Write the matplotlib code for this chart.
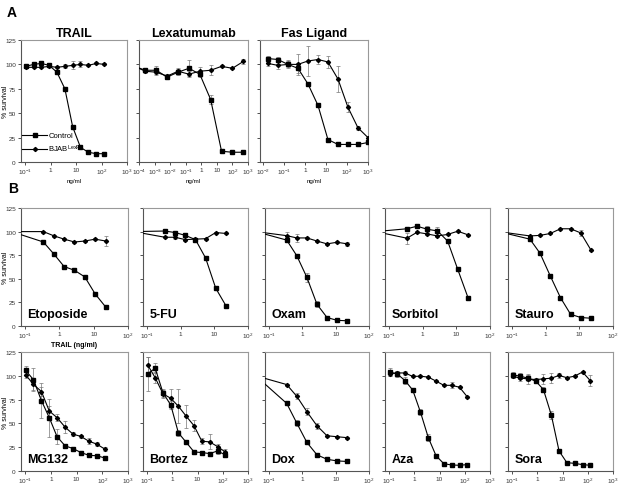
import numpy as np
import matplotlib
matplotlib.use('Agg')
import matplotlib.pyplot as plt

plt.rcParams['font.family'] = ['Liberation Sans', 'DejaVu Sans']
plt.rcParams['mathtext.fontset'] = 'custom'
plt.rcParams['mathtext.rm'] = 'Liberation Sans'
plt.rcParams['mathtext.it'] = 'Liberation Sans'

# ---- panel A data ----
trail_x = [0.105, 0.21, 0.43, 0.87, 1.75, 3.6, 7.3, 14.8, 30, 62, 125]
trail_ctrl = [98, 100, 101, 99, 92, 75, 36, 15, 10, 8.5, 8.5]
trail_bjab = [97, 97, 97, 98, 97, 98, 99, 100, 99, 101, 100]
trail_ctrl_err = [1, 2, 2, 1, 1, 1, 2, 1, 1, 1, 1]
trail_bjab_err = [1, 1, 1, 1, 1, 2, 4, 3, 1, 1, 1]

# first point is the off-scale baseline
lexa_x = [5.12e-5, 2.56e-4, 1.28e-3, 6.4e-3, 0.032, 0.16, 0.8, 4, 20, 100, 500]
lexa_ctrl = [98, 94, 94, 87, 92, 96, 90, 64, 11, 10, 10]
lexa_bjab = [98, 93, 92, 88, 93, 90, 93, 94, 98, 96, 103]
lexa_ctrl_err = [0, 2, 4, 2, 3, 8, 3, 5, 1, 1, 1]
lexa_bjab_err = [0, 2, 3, 2, 3, 3, 4, 5, 1, 1, 3]

fas_x = [0.0169, 0.0508, 0.152, 0.457, 1.37, 4.12, 12.3, 37, 111, 333, 1000]
fas_ctrl = [106, 105, 100, 96, 80, 58, 23, 18, 18, 18, 20]
fas_bjab = [101, 99, 100, 100, 103.5, 105, 102.5, 85, 56, 35, 25]
fas_ctrl_err = [3, 3, 3, 5, 2, 2, 2, 1, 1, 1, 2]
fas_bjab_err = [3, 4, 4, 11, 15, 5, 6, 13, 5, 2, 2]

# ---- panel B data ----
row1_x = [0.04, 0.34, 0.68, 1.37, 2.75, 5.5, 11, 22.5]
row2_x = [0.105, 0.21, 0.43, 0.87, 1.75, 3.6, 7.3, 14.8, 30, 62, 125]

etop_ctrl = [100, 89, 76.5, 63, 59, 52, 34, 20]
etop_bjab = [100, 100, 95.6, 92, 89, 90, 92, 90]
etop_ctrl_err = [0, 1, 1, 1, 1, 1, 1, 1]
etop_bjab_err = [0, 1, 1, 1, 1, 1, 1, 5]

fu_ctrl = [100, 100.6, 99, 96, 91.5, 72, 40, 21]
fu_bjab = [100, 94, 94, 91.5, 92, 92.5, 99, 98]
fu_ctrl_err = [0, 1, 1, 2, 1, 1, 1, 1]
fu_bjab_err = [0, 1, 2, 1, 1, 1, 1, 1]

oxam_ctrl = [100, 91, 74.5, 51.5, 23, 9, 6, 5.5]
oxam_bjab = [100, 95.7, 93.3, 93.3, 90, 87, 88.7, 87]
oxam_ctrl_err = [0, 2, 1, 5, 3, 1, 1, 1]
oxam_bjab_err = [0, 4, 4, 1, 1, 1, 1, 2]

sorb_ctrl = [100, 103, 105.7, 102.5, 100.7, 90, 60, 29.5]
sorb_bjab = [100, 93, 99.3, 97.5, 95.4, 97, 100.4, 96.5]
sorb_ctrl_err = [0, 1, 1, 3, 4, 1, 1, 1]
sorb_bjab_err = [0, 6, 1, 1, 1, 1, 1, 1]

stau_ctrl = [100, 92, 77, 53, 30, 12.4, 9, 8.2]
stau_bjab = [100, 95.4, 96, 98, 103, 103, 98.6, 80]
stau_ctrl_err = [0, 1, 1, 1, 1, 1, 1, 1]
stau_bjab_err = [0, 1, 1, 1, 1, 1, 3, 1]

mg_ctrl = [105.6, 96, 74, 56, 36, 26.4, 23.6, 19.4, 16.5, 16, 13.7]
mg_bjab = [101, 91, 83.5, 63, 56, 46, 38.7, 36.3, 31.3, 28.2, 23]
mg_ctrl_err = [5, 12, 18, 20, 8, 2, 2, 2, 2, 2, 2]
mg_bjab_err = [3, 6, 5, 5, 4, 6, 2, 2, 3, 2, 2]

bort_ctrl = [102, 108, 82, 69.4, 40, 30, 20, 19.4, 18.3, 21, 17]
bort_bjab = [111.6, 98, 81, 76.4, 68, 57.4, 47.5, 31.3, 30.6, 25.7, 20]
bort_ctrl_err = [18, 5, 4, 4, 3, 2, 2, 2, 2, 3, 2]
bort_bjab_err = [8, 6, 4, 10, 18, 12, 6, 3, 8, 3, 3]

dox_ctrl = [100, 71, 50.4, 30, 17, 12.3, 10.6, 10]
dox_bjab = [100, 90.8, 78.5, 62.3, 47.5, 37, 36, 35]
dox_ctrl_err = [0, 1, 3, 1, 1, 1, 1, 1]
dox_bjab_err = [0, 1, 3, 4, 3, 1, 1, 1]

aza_ctrl = [104, 102, 95, 85, 62, 35, 16, 7.7, 6.3, 6, 6.7]
aza_bjab = [102, 103, 103, 99.3, 99.6, 98.6, 94.4, 90, 90, 88, 78]
aza_ctrl_err = [4, 3, 4, 2, 3, 4, 1, 1, 1, 1, 1]
aza_bjab_err = [2, 2, 2, 1, 1, 1, 1, 1, 3, 1, 1]

sora_ctrl = [101, 99.6, 97.5, 94.4, 85.6, 58.8, 21, 8.8, 8, 6.7, 6]
sora_bjab = [99.6, 97.5, 96.8, 96, 96.8, 97.5, 100.4, 98, 99.6, 104, 95]
sora_ctrl_err = [3, 3, 3, 2, 3, 4, 1, 1, 1, 1, 1]
sora_bjab_err = [2, 3, 5, 2, 5, 5, 3, 1, 1, 1, 6]

yticks = [0, 25, 50, 75, 100, 125]
dec_labels = {-4: r'$10^{-4}$', -3: r'$10^{-3}$', -2: r'$10^{-2}$', -1: r'$10^{-1}$',
              0: '1', 1: '10', 2: r'$10^{2}$', 3: r'$10^{3}$'}

fig = plt.figure(figsize=(6.24, 4.89), dpi=100)


def add_ax(l, t, r, b):
    return fig.add_axes([l / 624, 1 - b / 489, (r - l) / 624, (b - t) / 489])


def draw(ax, x, ctrl, bjab, ectrl, ebjab, lo, hi, ylabels=False, legend=False):
    ax.errorbar(x, ctrl, yerr=ectrl, fmt='none', ecolor='#777777', elinewidth=0.5,
                capsize=1.3, capthick=0.5, zorder=2)
    ax.errorbar(x, bjab, yerr=ebjab, fmt='none', ecolor='#777777', elinewidth=0.5,
                capsize=1.3, capthick=0.5, zorder=2)
    ax.plot(x, ctrl, color='black', lw=0.8, marker='s', ms=3.4, mec='black',
            mfc='black', label='Control', zorder=3)
    ax.plot(x, bjab, color='black', lw=0.8, marker='D', ms=2.1, mec='black',
            mfc='black', label=r'BJAB$^{\rm LexR}$', zorder=3)
    ax.set_xscale('log')
    ax.set_xlim(10 ** lo, 10 ** hi)
    ax.set_ylim(0, 125)
    ax.minorticks_off()
    decs = list(range(int(np.ceil(lo)), hi + 1))
    ax.set_xticks([10.0 ** d for d in decs])
    ax.set_xticklabels([dec_labels[d] for d in decs])
    ax.set_yticks(yticks)
    if ylabels:
        ax.set_yticklabels([str(v) for v in yticks])
    else:
        ax.set_yticklabels([])
    ax.tick_params(direction='out', length=2.5, width=0.6, labelsize=4.6, pad=1.2,
                   colors='#333333')
    for s in ['top', 'right']:
        ax.spines[s].set_color('#999999')
        ax.spines[s].set_linewidth(0.8)
    for s in ['left', 'bottom']:
        ax.spines[s].set_color('#555555')
        ax.spines[s].set_linewidth(0.8)
    if legend:
        ax.legend(loc='lower left', bbox_to_anchor=(-0.03, 0.03), frameon=False,
                  fontsize=5.5, handlelength=3.2, handletextpad=0.2,
                  labelspacing=0.4, borderaxespad=0.2)


# ---- panel A ----
a1 = add_ax(21, 41, 127, 163)
draw(a1, trail_x, trail_ctrl, trail_bjab, trail_ctrl_err, trail_bjab_err, -1.17, 3,
     ylabels=True, legend=True)
a2 = add_ax(139, 41, 248, 163)
draw(a2, lexa_x, lexa_ctrl, lexa_bjab, lexa_ctrl_err, lexa_bjab_err, -4, 3)
a3 = add_ax(260, 41, 368, 163)
draw(a3, fas_x, fas_ctrl, fas_bjab, fas_ctrl_err, fas_bjab_err, -2.15, 3)

for ax, t in [(a1, 'TRAIL'), (a2, 'Lexatumumab'), (a3, 'Fas Ligand')]:
    ax.set_title(t, fontsize=9, fontweight='bold', pad=3)
    ax.set_xlabel('ng/ml', fontsize=4.5, labelpad=1)
a1.set_ylabel('% survival', fontsize=5)
a1.yaxis.set_label_coords(-0.115, 0.5)

# ---- panel B ----
cols = [(21, 128), (143, 248), (265, 369), (385, 490), (508, 613)]
row1 = [('Etoposide', etop_ctrl, etop_bjab, etop_ctrl_err, etop_bjab_err),
        ('5-FU', fu_ctrl, fu_bjab, fu_ctrl_err, fu_bjab_err),
        ('Oxam', oxam_ctrl, oxam_bjab, oxam_ctrl_err, oxam_bjab_err),
        ('Sorbitol', sorb_ctrl, sorb_bjab, sorb_ctrl_err, sorb_bjab_err),
        ('Stauro', stau_ctrl, stau_bjab, stau_ctrl_err, stau_bjab_err)]
row2 = [('MG132', row2_x, mg_ctrl, mg_bjab, mg_ctrl_err, mg_bjab_err, 3),
        ('Bortez', row2_x, bort_ctrl, bort_bjab, bort_ctrl_err, bort_bjab_err, 3),
        ('Dox', row1_x, dox_ctrl, dox_bjab, dox_ctrl_err, dox_bjab_err, 2),
        ('Aza', row2_x, aza_ctrl, aza_bjab, aza_ctrl_err, aza_bjab_err, 3),
        ('Sora', row2_x, sora_ctrl, sora_bjab, sora_ctrl_err, sora_bjab_err, 3)]

for i, (name, c, b, ec, eb) in enumerate(row1):
    l, r = cols[i]
    ax = add_ax(l, 209, r, 327)
    draw(ax, row1_x, c, b, ec, eb, -1.12, 2, ylabels=(i == 0))
    ax.text(0.06, 0.05, name, transform=ax.transAxes, fontsize=9,
            fontweight='bold', ha='left', va='bottom')
    if i == 0:
        ax.set_ylabel('% survival', fontsize=5)
        ax.yaxis.set_label_coords(-0.115, 0.5)
        ax.set_xlabel('TRAIL (ng/ml)', fontsize=5, fontweight='bold', labelpad=0.5)

for i, (name, xx, c, b, ec, eb, hi) in enumerate(row2):
    l, r = cols[i]
    ax = add_ax(l, 353, r, 472)
    lo = -1.16 if hi == 3 else -1.12
    draw(ax, xx, c, b, ec, eb, lo, hi, ylabels=(i == 0))
    ax.text(0.06, 0.05, name, transform=ax.transAxes, fontsize=9,
            fontweight='bold', ha='left', va='bottom')
    if i == 0:
        ax.set_ylabel('% survival', fontsize=5)
        ax.yaxis.set_label_coords(-0.115, 0.5)

fig.text(12 / 624, 1 - 13 / 489, 'A', fontsize=10, fontweight='bold',
         ha='center', va='center')
fig.text(13 / 624, 1 - 189 / 489, 'B', fontsize=10, fontweight='bold',
         ha='center', va='center')

fig.savefig('out.png', dpi=100)
